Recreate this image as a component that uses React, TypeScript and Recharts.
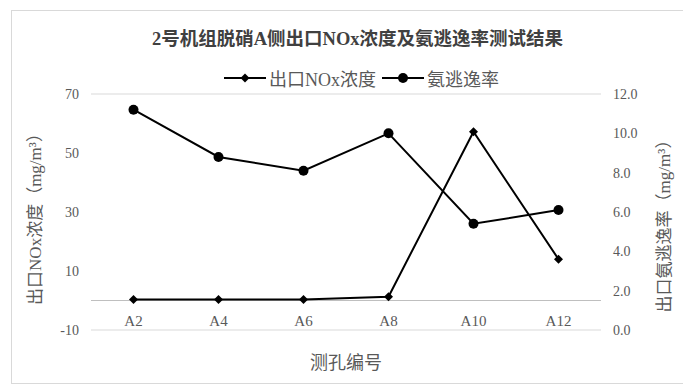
import { CartesianGrid, Line, LineChart, ReferenceLine, XAxis, YAxis } from "recharts";

const holes = ["A2", "A4", "A6", "A8", "A10", "A12"];
const noxOut = [0.3, 0.3, 0.3, 1.3, 57.2, 14.0];
const nh3Slip = [11.2, 8.8, 8.1, 10.0, 5.4, 6.1];
const leftTicks = [-10, 10, 30, 50, 70];
const rightTicks = [0, 2, 4, 6, 8, 10, 12];

const data = holes.map((h, i) => ({ hole: h, nox: noxOut[i], nh3: nh3Slip[i] }));

const SERIF = "'Liberation Serif', 'Times New Roman', 'Noto Sans CJK SC', serif";
const GREY = "#595959";
const GRID = "#d9d9d9";

// diamond marker for the NOx series
function Diamond(props: { cx?: number; cy?: number; index?: number }) {
  const { cx, cy } = props;
  if (cx == null || cy == null) return null;
  return (
    <polygon
      key={`d-${props.index}`}
      points={`${cx},${cy - 4.5} ${cx + 4.5},${cy} ${cx},${cy + 4.5} ${cx - 4.5},${cy}`}
      fill="#000"
    />
  );
}

// category labels sit above the -10 gridline, under the zero line
function XTick(props: { x?: number; y?: number; payload?: { value: string } }) {
  const { x = 0, y = 0, payload } = props;
  return (
    <text x={x} y={y - 12} textAnchor="middle" fill={GREY} fontSize={15} fontFamily={SERIF}>
      {payload?.value}
    </text>
  );
}

function LegendIcon({ kind }: { kind: "diamond" | "circle" }) {
  return (
    <svg width={42} height={12} style={{ verticalAlign: "middle" }}>
      <line x1={0} y1={6} x2={42} y2={6} stroke="#000" strokeWidth={2} />
      {kind === "diamond" ? (
        <polygon points="21,1.5 25.5,6 21,10.5 16.5,6" fill="#000" />
      ) : (
        <circle cx={21} cy={6} r={5} fill="#000" />
      )}
    </svg>
  );
}

export default function App() {
  return (
    <div
      style={{
        position: "absolute",
        left: 0,
        top: 0,
        width: 683,
        height: 385,
        overflow: "hidden",
        background: "#fff",
        fontFamily: SERIF,
      }}
    >
      <div
        style={{
          position: "absolute",
          left: 11,
          top: 10,
          width: 700,
          height: 372,
          border: `1px solid ${GRID}`,
        }}
      />
      <LineChart
        width={683}
        height={385}
        data={data}
        margin={{ top: 94, right: 0, bottom: 25, left: 0 }}
      >
        <CartesianGrid vertical={false} stroke={GRID} strokeWidth={1} />
        <XAxis
          dataKey="hole"
          scale="band"
          axisLine={false}
          tickLine={false}
          height={30}
          tick={<XTick />}
          interval={0}
        />
        <YAxis
          yAxisId="left"
          width={91}
          domain={[-10, 70]}
          ticks={leftTicks}
          axisLine={false}
          tickLine={false}
          tickMargin={6}
          tick={{ fill: GREY, fontSize: 14, fontFamily: SERIF }}
        />
        <YAxis
          yAxisId="right"
          orientation="right"
          width={82}
          domain={[0, 12]}
          ticks={rightTicks}
          axisLine={false}
          tickLine={false}
          tickMargin={6}
          tickFormatter={(v: number) => v.toFixed(1)}
          tick={{ fill: GREY, fontSize: 14, fontFamily: SERIF }}
        />
        <ReferenceLine yAxisId="left" y={0} stroke="#bfbfbf" strokeWidth={1} />
        <Line
          yAxisId="left"
          dataKey="nox"
          name="出口NOx浓度"
          stroke="#000"
          strokeWidth={2}
          dot={<Diamond />}
          isAnimationActive={false}
        />
        <Line
          yAxisId="right"
          dataKey="nh3"
          name="氨逃逸率"
          stroke="#000"
          strokeWidth={2}
          dot={{ r: 5, fill: "#000", stroke: "#000", strokeWidth: 0 }}
          isAnimationActive={false}
        />
      </LineChart>

      <div
        style={{
          position: "absolute",
          left: 0,
          width: 715,
          top: 24,
          textAlign: "center",
          fontWeight: "bold",
          fontSize: 18.5,
          color: "#404040",
        }}
      >
        2号机组脱硝A侧出口NOx浓度及氨逃逸率测试结果
      </div>

      <div
        style={{
          position: "absolute",
          left: 0,
          width: 723,
          top: 65,
          textAlign: "center",
          fontSize: 18,
          color: GREY,
          whiteSpace: "nowrap",
        }}
      >
        <LegendIcon kind="diamond" />
        <span style={{ margin: "0 6px 0 3px", verticalAlign: "middle" }}>出口NOx浓度</span>
        <LegendIcon kind="circle" />
        <span style={{ marginLeft: 3, verticalAlign: "middle" }}>氨逃逸率</span>
      </div>

      <div
        style={{
          position: "absolute",
          left: 33,
          top: 215,
          transform: "translate(-50%, -50%) rotate(-90deg)",
          whiteSpace: "nowrap",
          fontSize: 17,
          color: GREY,
        }}
      >
        出口NOx浓度（mg/m³）
      </div>
      <div
        style={{
          position: "absolute",
          left: 662,
          top: 222,
          transform: "translate(-50%, -50%) rotate(-90deg)",
          whiteSpace: "nowrap",
          fontSize: 17,
          color: GREY,
        }}
      >
        出口氨逃逸率（mg/m³）
      </div>
      <div
        style={{
          position: "absolute",
          left: 346,
          top: 361,
          transform: "translate(-50%, -50%)",
          whiteSpace: "nowrap",
          fontSize: 18,
          color: GREY,
        }}
      >
        测孔编号
      </div>
    </div>
  );
}
